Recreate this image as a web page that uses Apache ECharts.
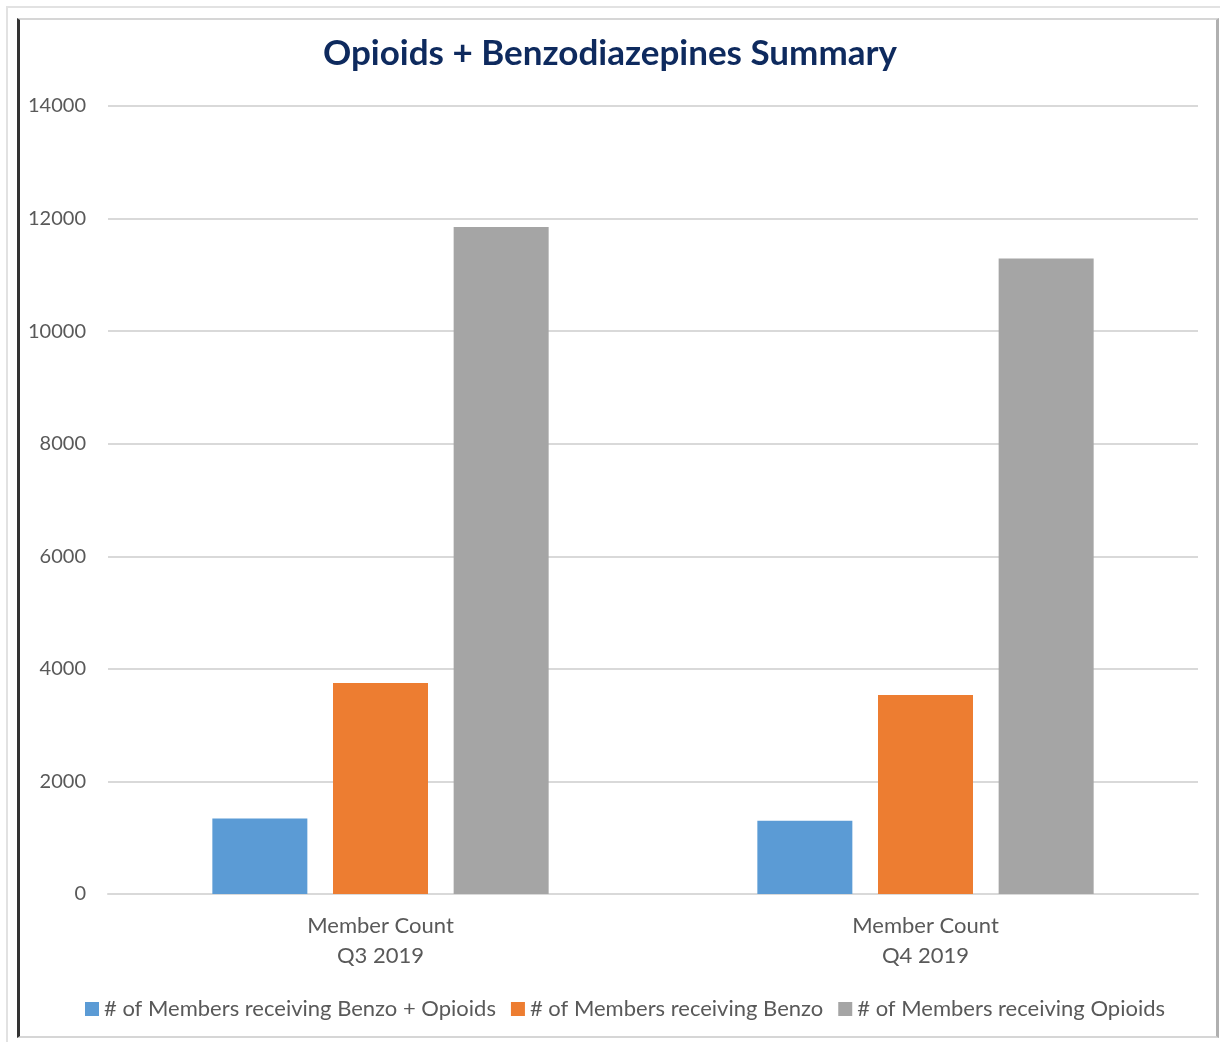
<!DOCTYPE html>
<html>
<head>
<meta charset="utf-8">
<script src="https://cdn.jsdelivr.net/npm/echarts@6/dist/echarts.min.js"></script>
<style>
    body { margin: 0; background: #fff; }
    #wrap { position: relative; width: 1220px; height: 1042px; }
    #outer { position: absolute; left: 6px; top: 6px; right: 0; bottom: 0; border-top: 2px solid #e2e2e2; border-left: 2px solid #e2e2e2; }
    #inner { position: absolute; left: 17px; top: 18px; width: 1196px; height: 1016px; border-top: 2px solid #d6d6d6; border-left: 3px solid #333; border-right: 3px solid #b0b0b0; border-bottom: 2px solid #d6d6d6; }
    #main { position: absolute; left: 0; top: 0; width: 1220px; height: 1042px; }
</style>
</head>
<body>
<div id="wrap">
    <div id="outer"></div>
    <div id="inner"></div>
    <div id="main"></div>
</div>
<script>
// 数据
let categories = ['Member Count\nQ3 2019', 'Member Count\nQ4 2019'];
let seriesNames = ['# of Members receiving Benzo + Opioids', '# of Members receiving Benzo', '# of Members receiving Opioids'];
let benzoOpioids = [1340, 1300];
let benzo = [3750, 3535];
let opioids = [11850, 11290];
let colors = ['#5b9bd5', '#ed7d31', '#a5a5a5'];

let myChart = echarts.init(document.getElementById('main'));
let font = 'Lato, "Open Sans", sans-serif';
let option = {
    animation: false,
    title: {
        text: 'Opioids + Benzodiazepines Summary',
        left: 'center',
        top: 31,
        textStyle: { color: '#0e2a5e', fontSize: 35, fontWeight: 'bold', fontFamily: font }
    },
    legend: {
        bottom: 17,
        left: 80,
        itemWidth: 14,
        itemHeight: 14,
        itemGap: 15,
        icon: 'rect',
        data: seriesNames,
        textStyle: { color: '#595959', fontSize: 22, fontFamily: font }
    },
    grid: { left: 108, right: 22, top: 106, bottom: 148 },
    xAxis: {
        type: 'category',
        data: categories,
        axisLine: { lineStyle: { color: '#d9d9d9', width: 2 } },
        axisTick: { show: false },
        axisLabel: { color: '#595959', fontSize: 22, fontFamily: font, lineHeight: 30, margin: 17 }
    },
    yAxis: {
        type: 'value',
        min: 0,
        max: 14000,
        interval: 2000,
        axisLine: { show: false },
        axisTick: { show: false },
        axisLabel: { color: '#595959', fontSize: 20, fontFamily: font, margin: 22, formatter: function (v) { return String(v); } },
        splitLine: { lineStyle: { color: '#d9d9d9', width: 2 } }
    },
    series: [
        { name: seriesNames[0], type: 'bar', data: benzoOpioids, barWidth: 95, barGap: '27%', itemStyle: { color: colors[0] } },
        { name: seriesNames[1], type: 'bar', data: benzo, barWidth: 95, barGap: '27%', itemStyle: { color: colors[1] } },
        { name: seriesNames[2], type: 'bar', data: opioids, barWidth: 95, barGap: '27%', itemStyle: { color: colors[2] } }
    ]
};
myChart.setOption(option);
</script>
</body>
</html>
